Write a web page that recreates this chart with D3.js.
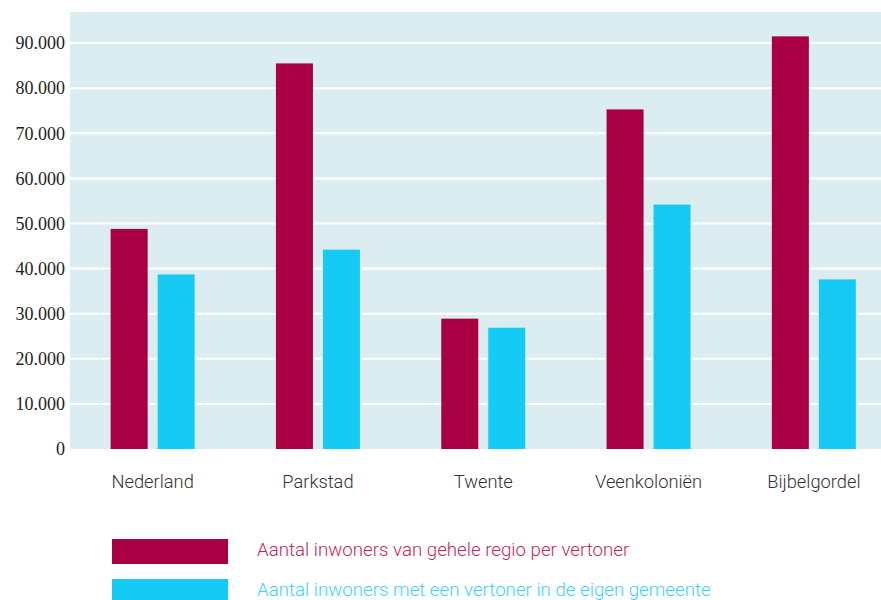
<!DOCTYPE html>
<html>
<head>
<meta charset="utf-8">
<script src="https://cdn.jsdelivr.net/npm/d3@7"></script>
<style>
  body { margin: 0; background: #fff; }
</style>
</head>
<body>
<svg class="chart"></svg>
<script>
var categories = ["Nederland", "Parkstad", "Twente", "Veenkoloniën", "Bijbelgordel"];
var seriesNames = ["Aantal inwoners van gehele regio per vertoner",
                   "Aantal inwoners met een vertoner in de eigen gemeente"];
var regioPerVertoner = [48800, 85500, 28900, 75300, 91500];
var eigenGemeente = [38700, 44200, 26900, 54200, 37600];
var yTicks = [0, 10000, 20000, 30000, 40000, 50000, 60000, 70000, 80000, 90000];
var colors = ["#a80042", "#15caf3"];
var textColors = ["#c2275e", "#3fd2f2"];

function drawChart() {
    var width = 881, height = 600;
    var plot = {left: 70, right: 881, top: 12, bottom: 449};

    var svg = d3.select(".chart")
        .attr("width", width)
        .attr("height", height);

    var x0 = d3.scaleBand()
        .domain(categories)
        .range([plot.left, plot.left + 5 * 165.3])
        .paddingInner(0);

    var pairWidth = 84;
    var x1 = d3.scaleBand()
        .domain([0, 1])
        .range([0, pairWidth])
        .paddingInner(0.2128);

    var y = d3.scaleLinear()
        .domain([0, 96900])
        .range([plot.bottom, plot.top]);

    // background
    svg.append("rect")
        .attr("x", plot.left)
        .attr("y", plot.top)
        .attr("width", plot.right - plot.left)
        .attr("height", plot.bottom - plot.top)
        .attr("fill", "#dcedf2");

    // gridlines
    svg.append("g")
        .selectAll("line")
        .data(yTicks.slice(1))
        .enter().append("line")
            .attr("x1", plot.left)
            .attr("x2", plot.right)
            .attr("y1", function(d) { return y(d); })
            .attr("y2", function(d) { return y(d); })
            .attr("stroke", "#fff")
            .attr("stroke-width", 2);

    // y axis
    var yAxis = d3.axisLeft(y)
        .tickValues(yTicks)
        .tickSize(0)
        .tickPadding(5)
        .tickFormat(function(d) { return d === 0 ? "0" : d3.format(",")(d).replace(/,/g, "."); });

    svg.append("g")
        .attr("class", "y axis")
        .attr("transform", "translate(" + plot.left + ",0)")
        .call(yAxis)
        .call(function(g) { g.select(".domain").remove(); })
        .selectAll("text")
            .style("font-family", "'Liberation Serif', 'Times New Roman', serif")
            .style("font-size", "18px")
            .style("fill", "#222");

    // bars
    var rows = categories.map(function(c, i) {
        return {cat: c, values: [regioPerVertoner[i], eigenGemeente[i]]};
    });

    var groups = svg.append("g")
        .selectAll("g")
        .data(rows)
        .enter().append("g")
            .attr("transform", function(d) {
                return "translate(" + (x0(d.cat) + (x0.bandwidth() - pairWidth) / 2) + ",0)";
            });

    groups.selectAll("rect")
        .data(function(d) { return d.values.map(function(v, k) { return {k: k, v: v}; }); })
        .enter().append("rect")
            .attr("x", function(d) { return x1(d.k); })
            .attr("width", x1.bandwidth())
            .attr("y", function(d) { return y(d.v); })
            .attr("height", function(d) { return plot.bottom - y(d.v); })
            .attr("fill", function(d) { return colors[d.k]; });

    // x axis
    var xAxis = d3.axisBottom(x0)
        .tickSize(0)
        .tickPadding(26);

    svg.append("g")
        .attr("class", "x axis")
        .attr("transform", "translate(0," + plot.bottom + ")")
        .call(xAxis)
        .call(function(g) { g.select(".domain").remove(); })
        .selectAll("text")
            .style("font-family", "Roboto, sans-serif")
            .style("font-weight", 300)
            .style("font-size", "18.3px")
            .style("fill", "#333");

    // legend
    var legend = svg.append("g")
        .selectAll("g")
        .data(seriesNames)
        .enter().append("g")
            .attr("transform", function(d, i) { return "translate(112," + (539 + i * 40) + ")"; });

    legend.append("rect")
        .attr("width", 116)
        .attr("height", 25)
        .attr("fill", function(d, i) { return colors[i]; });

    legend.append("text")
        .attr("x", 145)
        .attr("y", 17)
        .style("font-family", "Roboto, sans-serif")
        .style("font-weight", 300)
        .style("font-size", "18.7px")
        .attr("fill", function(d, i) { return textColors[i]; })
        .text(function(d) { return d; });
}

drawChart();
</script>
</body>
</html>
